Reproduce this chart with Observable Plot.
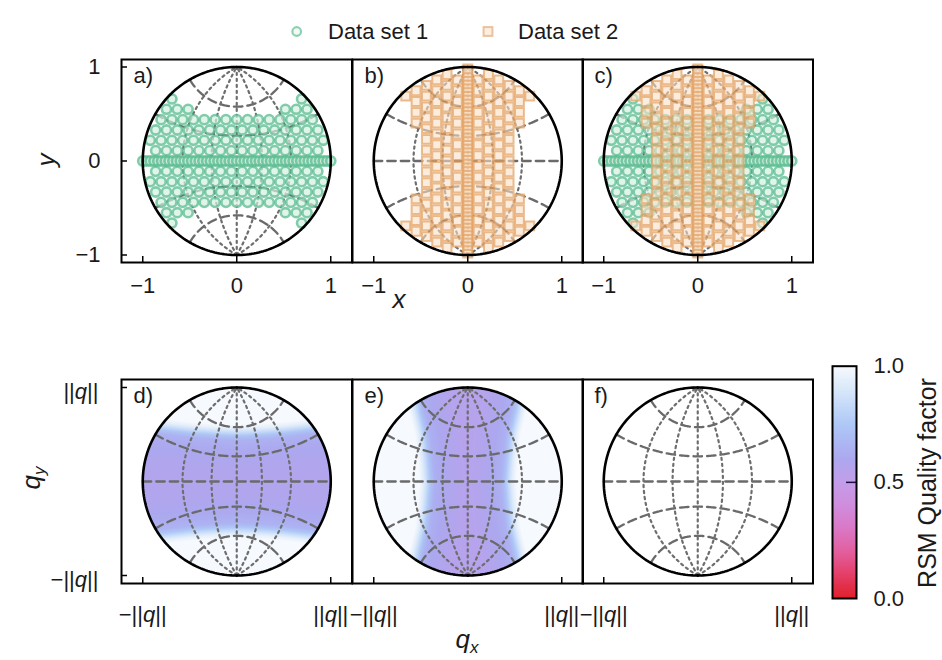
<!DOCTYPE html>
<html>
<head>
<meta charset="utf-8">
<script src="https://cdn.jsdelivr.net/npm/d3@7"></script>
<script src="https://cdn.jsdelivr.net/npm/@observablehq/plot@0.6"></script>
<style>
  html, body { margin: 0; padding: 0; background: #fff; }
  #root { position: relative; width: 942px; height: 660px; font-family: "Liberation Sans", Arial, sans-serif; }
  #root svg { position: absolute; overflow: visible; }
</style>
</head>
<body>
<div id="root"></div>
<script>
// ---------------- data ----------------
const legendLabels = ["Data set 1", "Data set 2"];
const panelLabelsTop = ["a)", "b)", "c)"];
const panelLabelsBottom = ["d)", "e)", "f)"];
const axisTicks = [-1, 0, 1];
const qTicks = [-1, 1];
const colorbarTicks = [0, 0.5, 1];

// stereographic net (degrees): dashed parallels, dotted meridians, solid rim
const parallelsDeg = [-60, -30, 0, 30, 60];
const meridiansDeg = [-60, -30, 0, 30, 60];
const rimDeg = [-90, 90];

// Data set 1 (circles): staggered rows in projected coordinates
const set1RowsY = [-0.77, -0.66, -0.55, -0.44, -0.33, -0.22, -0.11, 0.11, 0.22, 0.33, 0.44, 0.55, 0.66, 0.77];
const set1ColsX = [-0.92, -0.805, -0.69, -0.575, -0.46, -0.345, -0.23, -0.115, 0, 0.115, 0.23, 0.345, 0.46, 0.575, 0.69, 0.805, 0.92];
const set1Shift = 0.0575;
const set1EdgeAt = [0, 0.25, 0.5, 0.75, 1];        // |x|
const set1EdgeMax = [0.44, 0.47, 0.57, 0.7, 0.75];  // largest |y| covered
const set1LineX = [-1, -0.96, -0.92, -0.88, -0.84, -0.8, -0.76, -0.72, -0.68, -0.64, -0.6, -0.56, -0.52, -0.48, -0.44, -0.4, -0.36, -0.32, -0.28, -0.24, -0.2, -0.16, -0.12, -0.08, -0.04, 0, 0.04, 0.08, 0.12, 0.16, 0.2, 0.24, 0.28, 0.32, 0.36, 0.4, 0.44, 0.48, 0.52, 0.56, 0.6, 0.64, 0.68, 0.72, 0.76, 0.8, 0.84, 0.88, 0.92, 0.96, 1];

// Data set 2 (squares): staggered columns in projected coordinates
const set2ColsX = [-0.77, -0.66, -0.55, -0.44, -0.33, -0.22, -0.11, 0.11, 0.22, 0.33, 0.44, 0.55, 0.66, 0.77];
const set2RowsY = [-0.92, -0.805, -0.69, -0.575, -0.46, -0.345, -0.23, -0.115, 0, 0.115, 0.23, 0.345, 0.46, 0.575, 0.69, 0.805, 0.92];
const set2Shift = 0.0575;
const set2EdgeAt = [0, 0.25, 0.5, 0.75, 1];        // |y|
const set2EdgeMax = [0.5, 0.53, 0.6, 0.7, 0.75];   // largest |x| covered
const set2LineY = [-0.98, -0.94, -0.9, -0.86, -0.82, -0.78, -0.74, -0.7, -0.66, -0.62, -0.58, -0.54, -0.5, -0.46, -0.42, -0.38, -0.34, -0.3, -0.26, -0.22, -0.18, -0.14, -0.1, -0.06, -0.02, 0.02, 0.06, 0.1, 0.14, 0.18, 0.22, 0.26, 0.3, 0.34, 0.38, 0.42, 0.46, 0.5, 0.54, 0.58, 0.62, 0.66, 0.7, 0.74, 0.78, 0.82, 0.86, 0.9, 0.94, 0.98];

// RSM quality factor: covered band (half-width) and fall-off beyond its edge
const dBandAt = [0, 0.25, 0.5, 0.75, 1];             // |x| in panel d
const dBandHalf = [0.44, 0.45, 0.47, 0.5, 0.52];     // |y| where the band ends
const eBandAt = [0, 0.25, 0.5, 0.75, 1];             // |y| in panel e
const eBandHalf = [0.35, 0.37, 0.4, 0.46, 0.5];      // |x| where the band ends
const qualityOffset = [-1, -0.3, -0.1, 0, 0.04, 0.08, 0.12, 0.16, 1];
const qualityD = [0.56, 0.58, 0.61, 0.65, 0.73, 0.84, 0.94, 1, 1];
const qualityE = [0.54, 0.56, 0.6, 0.64, 0.72, 0.83, 0.93, 1, 1];

// colour map of the colour bar
const colorStops = [0, 0.1, 0.2, 0.3, 0.4, 0.5, 0.6, 0.75, 0.9, 1];
const colorRange = ["#e0202a", "#e43e66", "#e25f9e", "#da78c6", "#d08ddd", "#c49de9", "#aca8ef", "#aec8f7", "#d9e8fa", "#f6f9fd"];

// ---------------- helpers ----------------
const FONT = "'Liberation Sans', Arial, sans-serif";
const TXT = "#1a1a1a";
const D2R = Math.PI / 180;
const proj = (lon, lat) => d3.geoStereographicRaw(lon * D2R, lat * D2R);
const along = d3.range(-90, 90.001, 1.5);
function curves(values, kind) {
  return values.flatMap(v => along.map(t => {
    const [x, y] = kind === "par" ? proj(t, v) : proj(v, t);
    return {id: kind + v, x, y};
  }));
}
const parLines = curves(parallelsDeg, "par");
const merLines = curves(meridiansDeg, "mer");
const rimLines = curves(rimDeg, "rim");

const edge1 = d3.scaleLinear(set1EdgeAt, set1EdgeMax).clamp(true);
const set1 = [];
set1RowsY.forEach(y => {
  const s = Math.round(Math.abs(y) / 0.11) % 2 ? set1Shift : 0;
  set1ColsX.forEach(c => { const x = c + s; if (Math.hypot(x, y) <= 0.97 && Math.abs(y) <= edge1(Math.abs(x))) set1.push({x, y}); });
});
set1LineX.forEach(x => set1.push({x, y: 0}));

const edge2 = d3.scaleLinear(set2EdgeAt, set2EdgeMax).clamp(true);
const set2 = [];
set2ColsX.forEach(x => {
  const s = Math.round(Math.abs(x) / 0.11) % 2 ? set2Shift : 0;
  set2RowsY.forEach(r => { const y = r + s; if (Math.hypot(x, y) <= 0.97 && Math.abs(x) <= edge2(Math.abs(y))) set2.push({x, y}); });
});
set2LineY.forEach(y => set2.push({x: 0, y}));

const bandD = d3.scaleLinear(dBandAt, dBandHalf).clamp(true);
const bandE = d3.scaleLinear(eBandAt, eBandHalf).clamp(true);
const qD = d3.scaleLinear(qualityOffset, qualityD).clamp(true);
const qE = d3.scaleLinear(qualityOffset, qualityE).clamp(true);
const fieldD = (x, y) => (x * x + y * y > 1) ? NaN : qD(Math.abs(y) - bandD(Math.abs(x)));
const fieldE = (x, y) => (x * x + y * y > 1) ? NaN : qE(Math.abs(x) - bandE(Math.abs(y)));

const colorScale = {type: "linear", domain: colorStops, range: colorRange, interpolate: "rgb"};

const net = [
  Plot.line(parLines, {x: "x", y: "y", z: "id", stroke: "#6a6a6a", strokeWidth: 2.3, strokeDasharray: "8.5,5"}),
  Plot.line(merLines, {x: "x", y: "y", z: "id", stroke: "#6e6e6e", strokeWidth: 2.2, strokeDasharray: "2.2,3.8"})
];
const rim = Plot.line(rimLines, {x: "x", y: "y", z: "id", stroke: "#000", strokeWidth: 2.6});
const dots1 = Plot.dot(set1, {x: "x", y: "y", r: 4.6, stroke: "#55ba8c", strokeWidth: 2.6, strokeOpacity: 0.72, fill: "#d3efe1", fillOpacity: 0.7});
const dots2 = Plot.dot(set2, {x: "x", y: "y", symbol: "square", r: 5, stroke: "#e3a163", strokeWidth: 2, strokeOpacity: 0.7, fill: "#f9dfc6", fillOpacity: 0.6});

// ---------------- layout ----------------
const root = document.getElementById("root");
const PX = 94, PANEL_W = 230.5;
const colLeft = [121, 351.5, 582];
const minus = s => "\u2212" + s;

function makePanel({left, top, bottom, showY, xTicks, yTicks, xFmt, yFmt, xPad, yPad, yDy, label, layers}) {
  const mT = 14, mB = 50, mL = showY ? left : 0;
  const h = bottom - top;
  const xh = PANEL_W / 2 / PX, yh = h / 2 / PX;
  const marks = [
    ...layers,
    Plot.tickX(xTicks, {x: d => d, insetTop: h - 6, stroke: "#000", strokeWidth: 1.5}),
    Plot.axisX(xTicks, {tickSize: 0, tickPadding: xPad, tickFormat: xFmt, fontSize: 22, fill: TXT, label: null})
  ];
  if (showY) {
    marks.push(Plot.tickY(yTicks, {y: d => d, insetRight: PANEL_W - 6, stroke: "#000", strokeWidth: 1.5}));
    marks.push(Plot.axisY(yTicks, {tickSize: 0, tickPadding: yPad, tickFormat: yFmt, fontSize: 22, fill: TXT, dy: yDy, label: null}));
  }
  marks.push(Plot.frame({stroke: "#000", strokeWidth: 2}));
  marks.push(Plot.text([label], {text: d => d, frameAnchor: "top-left", dx: 12, dy: 8, lineAnchor: "top", textAnchor: "start", fontSize: 22, fill: TXT}));
  const svg = Plot.plot({
    width: mL + PANEL_W, height: mT + h + mB,
    marginLeft: mL, marginRight: 0, marginTop: mT, marginBottom: mB,
    style: {fontFamily: FONT, fontSize: "22px", color: TXT, background: "transparent", overflow: "visible"},
    x: {domain: [-xh, xh], axis: null},
    y: {domain: [-yh, yh], axis: null},
    color: colorScale,
    marks
  });
  svg.style.left = (showY ? 0 : left) + "px";
  svg.style.top = (top - mT) + "px";
  root.append(svg);
  return svg;
}

const numFmt = d => d < 0 ? minus(Math.abs(d)) : String(d);
const qFmt = d => d < 0 ? minus("||q||") : "||q||";

// top row
const topLayers = [
  [...net, dots1, rim],
  [...net, dots2, rim],
  [...net, dots1, dots2, rim]
];
topLayers.forEach((layers, i) => makePanel({
  left: colLeft[i], top: 59, bottom: 262, showY: i === 0,
  xTicks: axisTicks, yTicks: axisTicks, xFmt: numFmt, yFmt: numFmt, xPad: 15, yPad: 21, yDy: 0,
  label: panelLabelsTop[i], layers
}));

// bottom row
const bottomLayers = [
  [Plot.raster({fill: fieldD, x1: -1.2, x2: 1.2, y1: -1.08, y2: 1.08}), ...net, rim],
  [Plot.raster({fill: fieldE, x1: -1.2, x2: 1.2, y1: -1.08, y2: 1.08}), ...net, rim],
  [...net, rim]
];
const bottomSvgs = bottomLayers.map((layers, i) => makePanel({
  left: colLeft[i], top: 379.3, bottom: 583.3, showY: i === 0,
  xTicks: qTicks, yTicks: qTicks, xFmt: qFmt, yFmt: qFmt, xPad: 23, yPad: 23, yDy: 4,
  label: panelLabelsBottom[i], layers
}));

// colour bar
const cb = Plot.plot({
  width: 112, height: 280, marginLeft: 2, marginRight: 86, marginTop: 25.7, marginBottom: 22,
  style: {fontFamily: FONT, fontSize: "22px", color: TXT, background: "transparent", overflow: "visible"},
  x: {domain: [0, 1], axis: null},
  y: {domain: [0, 1], axis: null},
  color: colorScale,
  marks: [
    Plot.raster({fill: (x, y) => y, x1: 0, x2: 1, y1: 0, y2: 1}),
    Plot.tickY([0.5], {y: d => d, insetLeft: 14, stroke: "#1a1040", strokeWidth: 1.5}),
    Plot.axisY(colorbarTicks, {anchor: "right", tickSize: 0, tickPadding: 17, tickFormat: d3.format(".1f"), fontSize: 22, fill: TXT, label: null}),
    Plot.frame({stroke: "#000", strokeWidth: 2})
  ]
});
cb.style.left = "830px";
cb.style.top = "340px";
root.append(cb);

// italic q in the ||q|| tick labels
bottomSvgs.forEach(svg => {
  svg.querySelectorAll("text").forEach(t => {
    const s = t.textContent;
    if (!s.includes("q")) return;
    t.textContent = "";
    s.split("q").forEach((part, j) => {
      if (j > 0) {
        const q = document.createElementNS("http://www.w3.org/2000/svg", "tspan");
        q.setAttribute("font-style", "italic");
        q.textContent = "q";
        t.appendChild(q);
      }
      if (part) t.appendChild(document.createTextNode(part));
    });
  });
});

// legend and axis titles
const ov = document.createElementNS("http://www.w3.org/2000/svg", "svg");
ov.setAttribute("width", 942); ov.setAttribute("height", 660);
ov.style.left = "0px"; ov.style.top = "0px"; ov.style.pointerEvents = "none";
ov.setAttribute("font-family", FONT);
ov.innerHTML = `
  <circle cx="296.7" cy="31.5" r="4.3" fill="#f1faf5" stroke="#8fd0b2" stroke-width="2.2"/>
  <text x="328" y="31.5" dominant-baseline="central" font-size="22" fill="${TXT}">${legendLabels[0]}</text>
  <rect x="483.6" y="27.1" width="8.8" height="8.8" fill="#fcefe2" stroke="#ecc19c" stroke-width="2"/>
  <text x="518" y="31.5" dominant-baseline="central" font-size="22" fill="${TXT}">${legendLabels[1]}</text>
  <text x="399" y="299" text-anchor="middle" dominant-baseline="central" font-size="26" font-style="italic" fill="${TXT}">x</text>
  <text transform="translate(46,160) rotate(-90)" text-anchor="middle" dominant-baseline="central" font-size="26" font-style="italic" fill="${TXT}">y</text>
  <text x="467" y="648" text-anchor="middle" font-size="26" fill="${TXT}"><tspan font-style="italic">q</tspan><tspan font-style="italic" font-size="17" dy="5">x</tspan></text>
  <text transform="translate(40,478) rotate(-90)" text-anchor="middle" font-size="26" fill="${TXT}"><tspan font-style="italic">q</tspan><tspan font-style="italic" font-size="17" dy="5">y</tspan></text>
  <text transform="translate(927,483) rotate(-90)" text-anchor="middle" dominant-baseline="central" font-size="25" fill="${TXT}">RSM Quality factor</text>
`;
root.append(ov);
</script>
</body>
</html>
